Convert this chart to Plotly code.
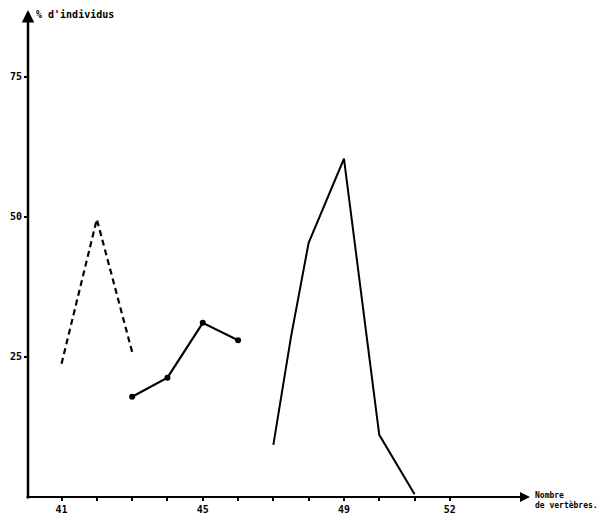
import plotly.graph_objects as go

# Data
dash_x = [41, 42, 43]
dash_y = [23.8, 49.6, 25.9]

mid_x = [43, 44, 45, 46]
mid_y = [17.9, 21.3, 31.1, 28.0]

right_x = [47, 47.5, 48, 49, 50, 51]
right_y = [9.3, 28.6, 45.4, 60.4, 11.1, 0.5]

x_tickvals = list(range(41, 53))
x_labels = {41: "41", 45: "45", 49: "49", 52: "52"}
x_ticktext = [f"<b>{x_labels[v]}</b>" if v in x_labels else "" for v in x_tickvals]
y_tickvals = [25, 50, 75]
y_labels = ["25", "50", "75"]
y_ticktext = [f"<b>{t}</b>" for t in y_labels]

FONT = "DejaVu Sans Mono"

fig = go.Figure()
fig.add_trace(go.Scatter(x=dash_x, y=dash_y, mode="lines",
                         line=dict(color="black", width=2.2, dash="6px,4px"),
                         showlegend=False))
fig.add_trace(go.Scatter(x=mid_x, y=mid_y, mode="lines+markers",
                         line=dict(color="black", width=2.2),
                         marker=dict(color="black", size=6),
                         showlegend=False))
fig.add_trace(go.Scatter(x=right_x, y=right_y, mode="lines",
                         line=dict(color="black", width=2),
                         showlegend=False))

# axes drawn as arrows
fig.add_annotation(x=1, y=0, xref="paper", yref="paper", ax=-505, ay=0,
                   showarrow=True, arrowhead=2, arrowsize=1, arrowwidth=2,
                   arrowcolor="black", text="")
fig.add_annotation(x=0, y=1, xref="paper", yref="paper", ax=0, ay=490,
                   showarrow=True, arrowhead=2, arrowsize=1, arrowwidth=2.5,
                   arrowcolor="black", text="")

fig.add_annotation(x=0, y=1, xref="paper", yref="paper", xanchor="left",
                   yanchor="middle", xshift=6, yshift=-4, showarrow=False,
                   text="<b>% d'individus</b>",
                   font=dict(family=FONT, size=10, color="black"))
fig.add_annotation(x=1, y=0, xref="paper", yref="paper", xanchor="left",
                   yanchor="top", xshift=3, yshift=8, showarrow=False,
                   align="left",
                   text="<b>Nombre</b><br><b>de vertèbres.</b>",
                   font=dict(family=FONT, size=8, color="black"))

fig.update_xaxes(range=[40.05, 54.27], tickvals=x_tickvals, ticktext=x_ticktext,
                 showgrid=False, zeroline=False, showline=False,
                 automargin=False,
                 ticks="outside", ticklen=3, tickwidth=2, tickcolor="black",
                 tickfont=dict(family=FONT, size=10, color="black"))
fig.update_yaxes(range=[0, 86.96], tickvals=y_tickvals, ticktext=y_ticktext,
                 showgrid=False, zeroline=False, showline=False,
                 automargin=False,
                 ticks="outside", ticklen=3, tickwidth=2, tickcolor="black",
                 ticklabelstandoff=0,
                 tickfont=dict(family=FONT, size=10, color="black"))

fig.update_layout(width=600, height=528, plot_bgcolor="white",
                  paper_bgcolor="white",
                  margin=dict(l=28, r=70, t=10, b=31),
                  font=dict(family=FONT, color="black"))

fig.write_html("out.html", config={"displayModeBar": False},
               post_script="document.body.style.margin='0';document.body.style.padding='0';")
